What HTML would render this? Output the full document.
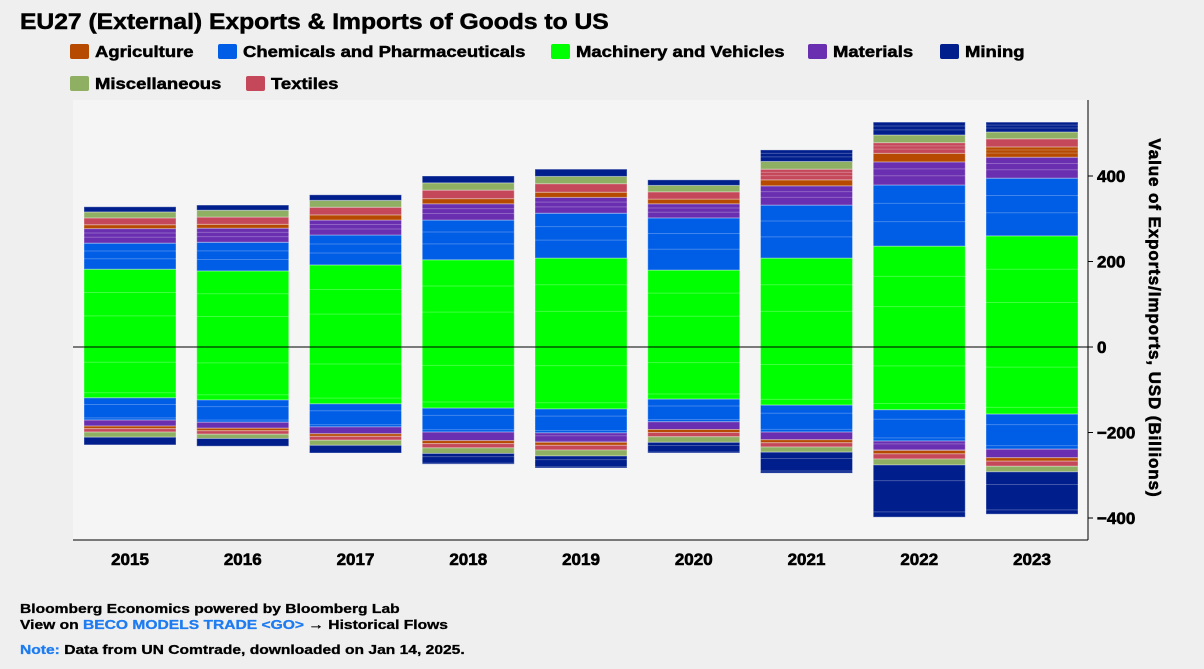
<!DOCTYPE html>
<html><head><meta charset="utf-8">
<style>
body{margin:0;width:1204px;height:669px;background:#efefef;font-family:"Liberation Sans",Arial,sans-serif;position:relative;overflow:hidden}
.t{position:absolute;font-weight:bold;color:#000;white-space:nowrap;transform-origin:left top;-webkit-text-stroke:0.5px #000}
.leg{position:absolute;font-weight:bold;font-size:16px;white-space:nowrap}
.leg .lt{display:inline-block;transform:scaleX(1.155);transform-origin:left center;-webkit-text-stroke:0.5px #000}
.sw{display:inline-block;width:19px;height:15px;border-radius:2px;vertical-align:-2px;margin-right:6px}
.ft{position:absolute;left:20px;font-size:13px;font-weight:bold;white-space:nowrap;transform:scaleX(1.2);transform-origin:left top;-webkit-text-stroke:0.3px #000}
</style></head><body>
<div class="t" style="left:20px;top:9px;font-size:22px;transform:scaleX(1.12)">EU27 (External) Exports &amp; Imports of Goods to US</div>
<div class="leg" style="left:70px;top:44px"><span class="sw" style="background:#b54a00"></span><span class="lt">Agriculture</span></div>
<div class="leg" style="left:218px;top:44px"><span class="sw" style="background:#005de6"></span><span class="lt">Chemicals and Pharmaceuticals</span></div>
<div class="leg" style="left:551px;top:44px"><span class="sw" style="background:#00ff00"></span><span class="lt">Machinery and Vehicles</span></div>
<div class="leg" style="left:808px;top:44px"><span class="sw" style="background:#6a2fb0"></span><span class="lt">Materials</span></div>
<div class="leg" style="left:940px;top:44px"><span class="sw" style="background:#001e8c"></span><span class="lt">Mining</span></div>
<div class="leg" style="left:70px;top:76px"><span class="sw" style="background:#8faf62"></span><span class="lt">Miscellaneous</span></div>
<div class="leg" style="left:246px;top:76px"><span class="sw" style="background:#c4485a"></span><span class="lt">Textiles</span></div>

<svg id="chart" width="1204" height="669" style="position:absolute;left:0;top:0" xmlns="http://www.w3.org/2000/svg"></svg>

<div class="ft" style="top:601px">Bloomberg Economics powered by Bloomberg Lab</div>
<div class="ft" style="top:617px">View on <span style="color:#1e7cf0;-webkit-text-stroke:0.3px #1e7cf0">BECO MODELS TRADE &lt;GO&gt;</span> → Historical Flows</div>
<div class="ft" style="top:642px"><span style="color:#1e7cf0;-webkit-text-stroke:0.3px #1e7cf0">Note:</span> Data from UN Comtrade, downloaded on Jan 14, 2025.</div>

<script>
const years=["2015","2016","2017","2018","2019","2020","2021","2022","2023"];
const seriesNames=["Machinery","Chemicals","Materials","Agriculture","Textiles","Miscellaneous","Mining"];
const exMachinery=[182,178,192,204,208,180,208,236,260];
const exChemicals=[61,67,70,93,105,122,124,143,135];
const exMaterials=[34,33,35,38,37,33,45,54,49];
const exAgriculture=[9,9,12,12,12,11,14,20,24];
const exTextiles=[16,17,18,20,20,17,25,25,19];
const exMisc=[14,16,16,17,17,15,18,18,16];
const exMining=[12,12,13,16,17,13,27,30,23];
const imMachinery=[119,124,133,143,145,122,136,147,157];
const imChemicals=[52,52,54,56,56,53,63,73,82];
const imMaterials=[14,14,16,20,22,18,18,22,20];
const imAgriculture=[6,6,6,7,7,7,7,8,8];
const imTextiles=[8,8,9,10,11,10,10,12,12];
const imMisc=[12,10,12,13,14,13,12,14,13];
const imMining=[18,18,18,25,28,25,49,122,99];
const yTicks=[400,200,0,-200,-400];
const colors=["#00ff00","#005de6","#6a2fb0","#b54a00","#c4485a","#8faf62","#001e8c"];

const NS="http://www.w3.org/2000/svg";
const svg=document.getElementById('chart');
const L=73,R=1088,T=100,B=540;
const y0=347,k=85.5/200;
function yS(v){return y0-v*k;}
function xS(i){return 130+i*112.75;}
const bw=92;
function mk(tag,a){const e=document.createElementNS(NS,tag);for(const n in a)e.setAttribute(n,a[n]);svg.appendChild(e);return e;}
const bg=mk('rect',{x:L,y:T,width:R-L,height:B-T,fill:'#f5f5f5'});


const TF={'font-size':17,'font-weight':'bold','font-family':'Liberation Sans, Arial, sans-serif',stroke:'#000','stroke-width':0.6};

const ex=[exMachinery,exChemicals,exMaterials,exAgriculture,exTextiles,exMisc,exMining];
const im=[imMachinery,imChemicals,imMaterials,imAgriculture,imTextiles,imMisc,imMining];
years.forEach((yr,i)=>{
  let acc=0;
  ex.forEach((s,j)=>{
    const a=yS(acc),b=yS(acc+s[i]);acc+=s[i];
    const r=mk('rect',{x:xS(i)-bw/2,y:b,width:bw,height:a-b,fill:colors[j],stroke:'rgba(255,255,255,0.35)','stroke-width':1});
    
    
    if(s[i]>20){[0.3,0.6].forEach(f=>mk('line',{x1:xS(i)-bw/2,x2:xS(i)+bw/2,y1:b+(a-b)*f,y2:b+(a-b)*f,stroke:'rgba(255,255,255,0.25)','stroke-width':1}));}
  });
  acc=0;
  im.forEach((s,j)=>{
    const a=yS(-acc),b=yS(-acc-s[i]);acc+=s[i];
    const r=mk('rect',{x:xS(i)-bw/2,y:a,width:bw,height:b-a,fill:colors[j],stroke:'rgba(255,255,255,0.35)','stroke-width':1});
    
    
    if(s[i]>20){[0.3,0.9].forEach(f=>mk('line',{x1:xS(i)-bw/2,x2:xS(i)+bw/2,y1:a+(b-a)*f,y2:a+(b-a)*f,stroke:'rgba(255,255,255,0.25)','stroke-width':1}));}
  });
  const t=mk('text',Object.assign({x:xS(i),y:565,'text-anchor':'middle'},TF));
  t.textContent=yr;
  
  
});
const zl=mk('line',{x1:L,x2:R,y1:y0,y2:y0,stroke:'#000','stroke-width':1});


const xa=mk('line',{x1:L,x2:R,y1:B,y2:B,stroke:'#000','stroke-width':1});


const ya=mk('line',{x1:R,x2:R,y1:T,y2:B,stroke:'#000','stroke-width':1});


yTicks.forEach(v=>{
  mk('line',{x1:R,x2:R+5,y1:yS(v),y2:yS(v),stroke:'#000'});
  const t=mk('text',Object.assign({x:R+9,y:yS(v)+6},TF));
  t.textContent=v<0?'−'+Math.abs(v):String(v);
  
  
});
const yt=mk('text',Object.assign({x:1149,y:318,'text-anchor':'middle',transform:'rotate(90 1149 318)','letter-spacing':'0.9'},TF));
yt.textContent='Value of Exports/Imports, USD (Billions)';


</script>
</body></html>
